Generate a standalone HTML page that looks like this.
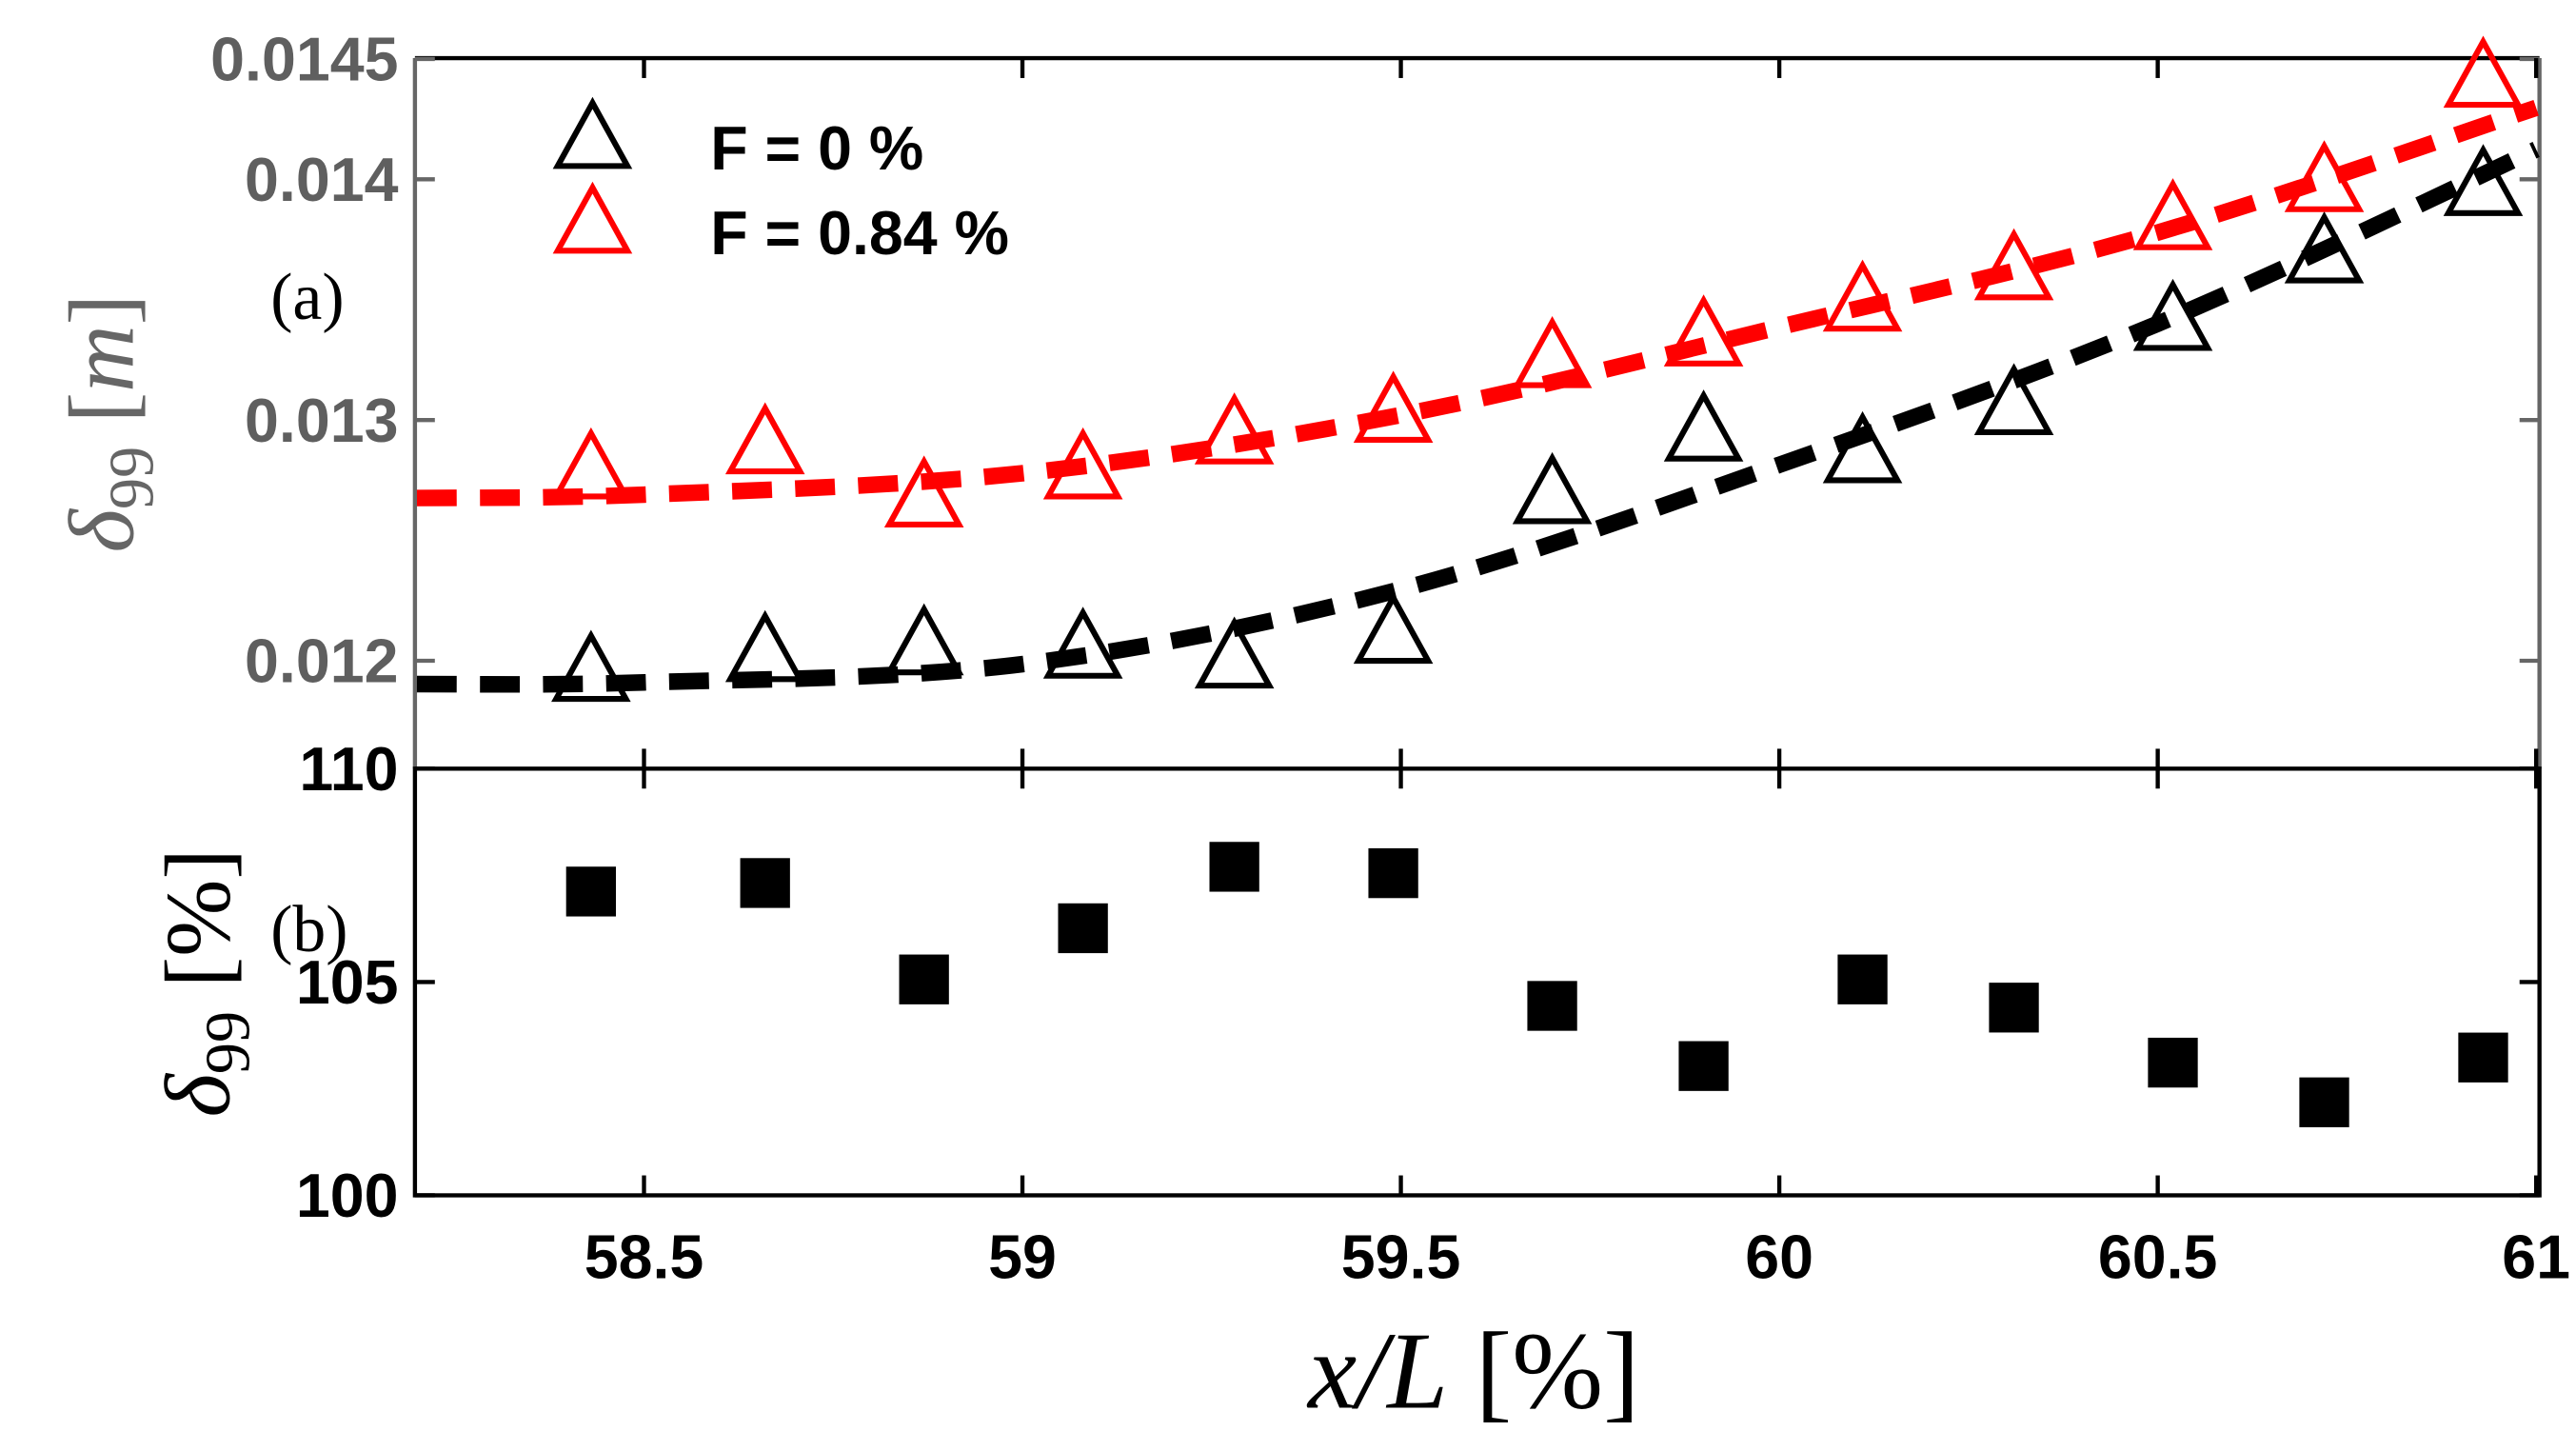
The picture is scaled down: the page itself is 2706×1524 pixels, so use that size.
<!DOCTYPE html>
<html><head><meta charset="utf-8"><style>
html,body{margin:0;padding:0;background:#fff;}
svg{display:block;}
.tk{font-family:"Liberation Sans Narrow","Liberation Sans",sans-serif;font-weight:bold;font-size:37px;}
.ser{font-family:"Liberation Serif","DejaVu Serif",serif;}
</style></head><body>
<svg id="chart" width="2706" height="1524" viewBox="0 0 1552 874" preserveAspectRatio="none" xmlns="http://www.w3.org/2000/svg">
<g id="g"></g>
</svg>
<script>
const xs = [58.43,58.66,58.87,59.08,59.28,59.49,59.70,59.90,60.11,60.31,60.52,60.72,60.93];
const blackVals = [0.011952,0.012034,0.012062,0.012048,0.012007,0.01211,0.01269,0.01295,0.01286,0.01306,0.01341,0.01369,0.01397];
const redVals = [0.012793,0.012897,0.012676,0.012793,0.012938,0.013028,0.013255,0.013345,0.01349,0.01362,0.013828,0.013986,0.01442];
const fitX = [58.2,58.5,59,59.5,60,60.5,61];
const blackFit = [0.011903,0.01191,0.011986,0.012297,0.012814,0.0134,0.014124];
const redFit = [0.012676,0.01269,0.012779,0.013021,0.013386,0.013779,0.014297];
const ratioVals = [107.12,107.32,105.06,106.26,107.70,107.55,104.44,103.03,105.06,104.40,103.11,102.18,103.23];
const xTicks = [58.5,59,59.5,60,60.5,61];
const xTickLabels = ["58.5","59","59.5","60","60.5","61"];
const yTopTicks = [0.012,0.013,0.014,0.0145];
const yTopLabels = ["0.012","0.013","0.014","0.0145"];
const yBotTicks = [100,105,110];
const yBotLabels = ["100","105","110"];

const L=250,R=1530,T=35,M=463,B=720;
const X=v=>388+(v-58.5)*456;
const YT=v=>398-(v-0.012)*145000;
const YB=v=>463+(110-v)*25.7;
const NS='http://www.w3.org/2000/svg';
const g=document.getElementById('g');
function mk(tag,attrs,parent){const e=document.createElementNS(NS,tag);for(const k in attrs)e.setAttribute(k,attrs[k]);(parent||g).appendChild(e);return e;}

let e;
e=mk('line',{x1:L,y1:T,x2:L,y2:M,stroke:'#666','stroke-width':2.5});


e=mk('line',{x1:L,y1:T,x2:R,y2:T,stroke:'#000','stroke-width':2.5});


e=mk('line',{x1:R,y1:T,x2:R,y2:M,stroke:'#666','stroke-width':2.5});


e=mk('rect',{x:L,y:M,width:R-L,height:B-M,fill:'none',stroke:'#000','stroke-width':2.5});



yTopTicks.forEach((v,i)=>{
  const y=YT(v);
  mk('line',{x1:L,y1:y,x2:L+12,y2:y,stroke:'#666','stroke-width':2.5});
  mk('line',{x1:R,y1:y,x2:R-12,y2:y,stroke:'#666','stroke-width':2.5});
  const t=mk('text',{x:L-10,y:y+13,'text-anchor':'end',fill:'#5f5f5f',class:'tk'});
  t.textContent=yTopLabels[i];
  
  
});
yBotTicks.forEach((v,i)=>{
  const y=YB(v);
  mk('line',{x1:L,y1:y,x2:L+12,y2:y,stroke:'#000','stroke-width':2.5});
  mk('line',{x1:R,y1:y,x2:R-12,y2:y,stroke:'#000','stroke-width':2.5});
  const t=mk('text',{x:L-10,y:y+13,'text-anchor':'end',fill:'#000',class:'tk'});
  t.textContent=yBotLabels[i];
  
  
});
xTicks.forEach((v,i)=>{
  const x=X(v);
  mk('line',{x1:x,y1:T,x2:x,y2:T+12,stroke:'#000','stroke-width':2.5});
  mk('line',{x1:x,y1:M,x2:x,y2:M-12,stroke:'#000','stroke-width':2.5});
  mk('line',{x1:x,y1:M,x2:x,y2:M+12,stroke:'#000','stroke-width':2.5});
  mk('line',{x1:x,y1:B,x2:x,y2:B-12,stroke:'#000','stroke-width':2.5});
  const t=mk('text',{x:x,y:B+50,'text-anchor':'middle',fill:'#000',class:'tk'});
  t.textContent=xTickLabels[i];
  
  
});

function smooth(xv,yv,yf){
  const p=xv.map((x,i)=>[X(x),yf(yv[i])]);
  let d='M'+p[0][0]+','+p[0][1];
  for(let i=0;i<p.length-1;i++){
    const p0=p[Math.max(0,i-1)],p1=p[i],p2=p[i+1],p3=p[Math.min(p.length-1,i+2)];
    const c1=[p1[0]+(p2[0]-p0[0])/6,p1[1]+(p2[1]-p0[1])/6];
    const c2=[p2[0]-(p3[0]-p1[0])/6,p2[1]-(p3[1]-p1[1])/6];
    d+=' C'+c1+' '+c2+' '+p2;
  }
  return d;
}
e=mk('path',{d:smooth(fitX,redFit,YT),fill:'none',stroke:'#f00','stroke-width':10,'stroke-dasharray':'24 14'});


e=mk('path',{d:smooth(fitX,blackFit,YT),fill:'none',stroke:'#000','stroke-width':10,'stroke-dasharray':'24 14'});



function tri(cx,cy,col){
  return mk('polygon',{points:`${cx},${cy-22} ${cx-21},${cy+16} ${cx+21},${cy+16}`,fill:'none',stroke:col,'stroke-width':3.5});
}
xs.forEach((x,i)=>{
  e=tri(X(x),YT(blackVals[i]),'#000');
  
  
  e=tri(X(x),YT(redVals[i]),'#f00');
  
  
  e=mk('rect',{x:X(x)-15,y:YB(ratioVals[i])-15,width:30,height:30,fill:'#000'});
  
  
});

e=tri(357,84,'#000');


e=tri(357,135,'#f00');


e=mk('text',{x:428,y:102,fill:'#000',class:'tk'});e.textContent='F = 0 %';


e=mk('text',{x:428,y:153,fill:'#000',class:'tk'});e.textContent='F = 0.84 %';



e=mk('text',{x:163,y:192,fill:'#000',class:'ser','font-size':40});e.textContent='(a)';


e=mk('text',{x:163,y:573,fill:'#000',class:'ser','font-size':40});e.textContent='(b)';



e=mk('text',{transform:'translate(80,255) rotate(-90)','text-anchor':'middle',fill:'#666',class:'ser','font-size':56,'font-style':'italic'});
e.innerHTML='δ<tspan font-size="38" font-style="normal" dy="12">99</tspan><tspan dy="-12" font-style="normal">   [</tspan>m<tspan font-style="normal">]</tspan>';


e=mk('text',{transform:'translate(138,592) rotate(-90)','text-anchor':'middle',fill:'#000',class:'ser','font-size':56,'font-style':'italic'});
e.innerHTML='δ<tspan font-size="38" font-style="normal" dy="12">99</tspan><tspan dy="-12" font-style="normal">   [%]</tspan>';


e=mk('text',{x:888,y:848,'text-anchor':'middle',fill:'#000',class:'ser','font-size':66,'font-style':'italic'});
e.innerHTML='x/L<tspan font-style="normal">   [%]</tspan>';


</script>
</body></html>
